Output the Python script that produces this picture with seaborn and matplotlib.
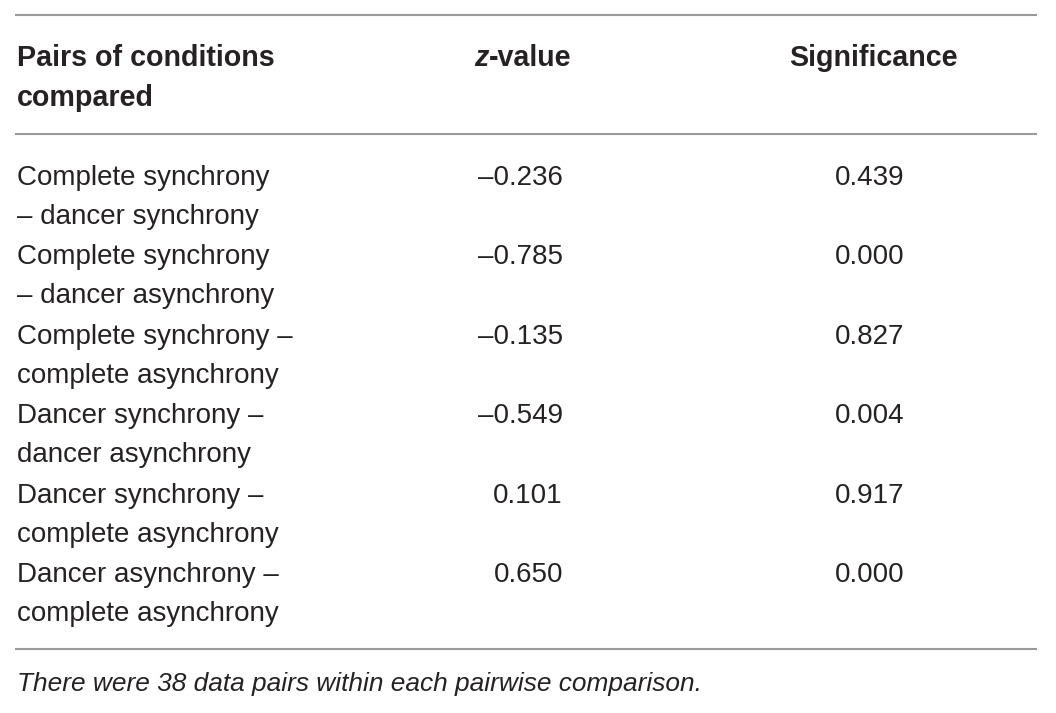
import matplotlib
matplotlib.use("Agg")
import matplotlib.pyplot as plt
import seaborn as sns

# ---- data ----
pairs_line1 = ["Complete synchrony", "Complete synchrony", "Complete synchrony \u2013",
               "Dancer synchrony \u2013", "Dancer synchrony \u2013", "Dancer asynchrony \u2013"]
pairs_line2 = ["\u2013 dancer synchrony", "\u2013 dancer asynchrony", "complete asynchrony",
               "dancer asynchrony", "complete asynchrony", "complete asynchrony"]
z_values = [-0.236, -0.785, -0.135, -0.549, 0.101, 0.650]
significance = [0.439, 0.000, 0.827, 0.004, 0.917, 0.000]
header_col1 = ["Pairs of conditions", "compared"]
header_z = "-value"
header_sig = "Significance"
footnote = "There were 38 data pairs within each pairwise comparison."

sns.set_theme(style="white")
plt.rcParams['font.family'] = ['Liberation Sans', 'DejaVu Sans']

W, H = 1056, 713
fig = plt.figure(figsize=(W / 100, H / 100), dpi=100)
ax = fig.add_axes([0, 0, 1, 1])
ax.set_xlim(0, W)
ax.set_ylim(H, 0)
ax.axis("off")

txt = "#262223"
line_c = "#9a9a9a"
fs = 20
fh = 20.6

for y in (15, 134, 649):
    ax.plot([15, 1037], [y, y], color=line_c, lw=1.5, solid_capstyle="butt")

# header
ax.text(17, 58, header_col1[0], fontsize=fh, fontweight="bold", color=txt, va="center", ha="left")
ax.text(17, 98, header_col1[1], fontsize=fh, fontweight="bold", color=txt, va="center", ha="left")
ax.text(489, 58, "z", fontsize=fh, fontweight="bold", fontstyle="italic", color=txt, va="center", ha="right")
ax.text(489, 58, header_z, fontsize=fh, fontweight="bold", color=txt, va="center", ha="left")
ax.text(873, 58, header_sig, fontsize=fh, fontweight="bold", color=txt, va="center", ha="center")

def fmt(v):
    s = f"{abs(v):.3f}"
    return ("\u2013" if v < 0 else "") + s

row0 = 178
step = 79.4
for i in range(len(z_values)):
    y = row0 + i * step
    ax.text(17, y, pairs_line1[i], fontsize=fs, color=txt, va="center", ha="left")
    ax.text(17, y + 39, pairs_line2[i], fontsize=fs, color=txt, va="center", ha="left")
    ax.text(563, y, fmt(z_values[i]), fontsize=fs, color=txt, va="center", ha="right")
    ax.text(904, y, f"{significance[i]:.3f}", fontsize=fs, color=txt, va="center", ha="right")

ax.text(17, 684, footnote, fontsize=18.9, fontstyle="italic", color=txt, va="center", ha="left")

fig.savefig("out.png", dpi=100)
